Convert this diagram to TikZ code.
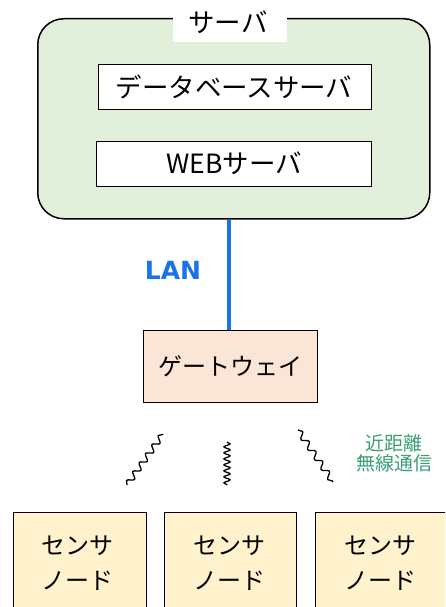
\documentclass[tikz,border=0pt]{standalone}
\usepackage{fontspec}
\setmainfont{Noto Sans CJK JP}
\newfontfamily\lanfont{DejaVu Sans}
\usetikzlibrary{decorations.pathmorphing,calc}
\definecolor{srvfill}{HTML}{E2EFDA}
\definecolor{gwfill}{HTML}{FBE5D6}
\definecolor{snfill}{HTML}{FFF2CC}
\definecolor{lanblue}{HTML}{1A73E8}
\definecolor{wlgreen}{HTML}{3A9E72}
\tikzset{
  box/.style={draw=black, line width=1.2pt, inner sep=0pt, anchor=north west},
  jbig/.style={font=\fontsize{26.5}{30}\selectfont},
  jtxt/.style={font=\fontsize{24}{28}\selectfont},
  wave/.style={line width=1.3pt, decorate, decoration={snake, amplitude=3pt, segment length=11pt}},
}
\begin{document}
\begin{tikzpicture}[x=1pt,y=-1pt]
\useasboundingbox (0,0) rectangle (445,607);
\clip (0,0) rectangle (445,607);
% server
\node[box, fill=srvfill, rounded corners=26pt, line width=1.5pt, minimum width=392pt, minimum height=200pt] (srv) at (37,18) {};
\node[fill=white, inner sep=0pt, minimum width=114pt, minimum height=37pt, anchor=north west] (srvlbl) at (173,5) {};
\node[jbig] (srvtxt) at (228,22) {サーバ};
\node[box, fill=white, minimum width=273pt, minimum height=45pt] (db) at (98,64) {};
\node[jbig] at (234,87) {データベースサーバ};
\node[box, fill=white, minimum width=275pt, minimum height=45pt] (web) at (96,141) {};
\node[jbig] at (234,163) {WEBサーバ};
% gateway
\node[box, fill=gwfill, minimum width=174pt, minimum height=72pt] (gw) at (143,330) {};
\node[jtxt] at (gw.center) {ゲートウェイ};
% LAN
\coordinate (lanx) at (229,0);
\draw[lanblue, line width=3.5pt] (lanx |- srv.south) -- (lanx |- gw.north);
\node[font=\lanfont\fontsize{25}{30}\selectfont\bfseries, text=lanblue] (lan) at (173,270) {LAN};
% wireless
\coordinate (w1a) at (127,485); \coordinate (w1b) at (163,434);
\coordinate (w2a) at (227,442); \coordinate (w2b) at (227,485);
\coordinate (w3a) at (298,430); \coordinate (w3b) at (333,482);
\draw[wave] (w1a) -- (w1b);
\draw[wave, decoration={snake, amplitude=3pt, segment length=6pt}] (w2a) -- (w2b);
\draw[wave, decoration={snake, amplitude=3pt, segment length=12pt}] (w3a) -- (w3b);
\node[text=wlgreen, font=\fontsize{19}{20}\selectfont, align=center, inner sep=0pt] (wl) at (394,453) {近距離\\無線通信};
% sensors
\node[box, fill=snfill, minimum width=133pt, minimum height=120pt] (s1) at (13,512) {};
\node[box, fill=snfill, minimum width=132pt, minimum height=120pt] (s2) at (164,512) {};
\node[box, fill=snfill, minimum width=140pt, minimum height=120pt] (s3) at (315,512) {};
\foreach \s/\x in {s1/77, s2/229, s3/380}{
  \node[jtxt] at (\x,546) {センサ};
  \node[jtxt] at (\x,581) {ノード};
}
\end{tikzpicture}
\end{document}
